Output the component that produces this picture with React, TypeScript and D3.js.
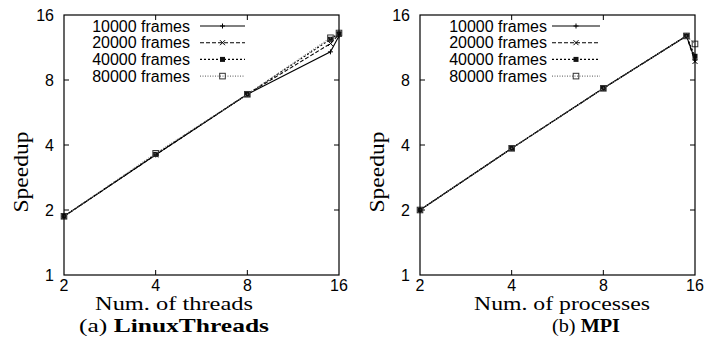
import { useEffect } from 'react';
import * as d3 from 'd3';

// x positions (threads / processes)
const counts = [2, 4, 8, 15, 16];
const seriesNames = ['10000 frames', '20000 frames', '40000 frames', '80000 frames'];

// (a) LinuxThreads speedups
const lt10000 = [1.87, 3.6, 6.87, 10.8, 12.8];
const lt20000 = [1.87, 3.6, 6.87, 11.8, 13.0];
const lt40000 = [1.87, 3.62, 6.87, 12.35, 13.1];
const lt80000 = [1.87, 3.66, 6.87, 12.55, 13.2];

// (b) MPI speedups
const mpi10000 = [2.0, 3.86, 7.32, 12.8, 9.9];
const mpi20000 = [2.0, 3.86, 7.32, 12.8, 9.75];
const mpi40000 = [2.0, 3.86, 7.32, 12.8, 10.3];
const mpi80000 = [2.0, 3.86, 7.32, 12.8, 11.75];

const xTicks = [2, 4, 8, 16];
const yTicks = [1, 2, 4, 8, 16];

const styles = [
  { dash: null, stroke: '#000', marker: 'plus' },
  { dash: '4,2', stroke: '#000', marker: 'cross' },
  { dash: '2,2', stroke: '#000', marker: 'fsquare' },
  { dash: '1,1.5', stroke: '#777', marker: 'osquare' },
];

const SANS = '"Liberation Sans", Arial, sans-serif';
const SERIF = '"Liberation Serif", "Times New Roman", serif';

function Marker({ kind, x, y }: { kind: string; x: number; y: number }) {
  const s = 2.5;
  if (kind === 'plus')
    return <path d={`M${x - s},${y}H${x + s}M${x},${y - s}V${y + s}`} stroke="#000" strokeWidth={1} />;
  if (kind === 'cross')
    return <path d={`M${x - s},${y - s}L${x + s},${y + s}M${x - s},${y + s}L${x + s},${y - s}`} stroke="#000" strokeWidth={1} />;
  if (kind === 'fsquare')
    return <rect x={x - 2.5} y={y - 2.5} width={5} height={5} fill="#111" />;
  return <rect x={x - 2.8} y={y - 2.8} width={5.6} height={5.6} fill="none" stroke="#333" strokeWidth={1} />;
}

function Panel({ x0, x1, series, legendRight, lineX0, lineX1, xTitle, titleW, capLabel, capBold, capW, titleCx, capCx }: any) {
  const top = 15, bottom = 275;
  const x = d3.scaleLog().base(2).domain([2, 16]).range([x0, x1]);
  const y = d3.scaleLog().base(2).domain([1, 16]).range([bottom, top]);
  const line = d3.line<number>().x((_, i) => x(counts[i])).y(d => y(d));
  const tk = 5;
  return (
    <g>
      {/* ticks, mirrored inside */}
      {yTicks.slice(1, -1).map(t => (
        <g key={'y' + t}>
          <line x1={x0} x2={x0 + tk} y1={y(t)} y2={y(t)} stroke="#000" />
          <line x1={x1} x2={x1 - tk} y1={y(t)} y2={y(t)} stroke="#000" />
        </g>
      ))}
      {xTicks.slice(1, -1).map(t => (
        <g key={'x' + t}>
          <line x1={x(t)} x2={x(t)} y1={bottom} y2={bottom - tk} stroke="#000" />
          <line x1={x(t)} x2={x(t)} y1={top} y2={top + tk} stroke="#000" />
        </g>
      ))}
      {yTicks.map(t => (
        <text key={'yl' + t} x={x0 - 10} y={y(t)} dy="0.36em" textAnchor="end" fontFamily={SANS} fontSize={16}>{t}</text>
      ))}
      {xTicks.map(t => (
        <text key={'xl' + t} x={x(t)} y={291} textAnchor="middle" fontFamily={SANS} fontSize={16}>{t}</text>
      ))}
      {/* series */}
      {series.map((vals: number[], si: number) => (
        <g key={si}>
          <path d={line(vals) || ''} fill="none" stroke={styles[si].stroke} strokeWidth={1.1}
            strokeDasharray={styles[si].dash || undefined} />
          {vals.map((v, i) => <Marker key={i} kind={styles[si].marker} x={x(counts[i])} y={y(v)} />)}
        </g>
      ))}
      {/* legend */}
      {seriesNames.map((n, si) => {
        const ly = 26 + si * 16.7;
        return (
          <g key={n}>
            <text x={legendRight} y={ly} dy="0.36em" textAnchor="end" fontFamily={SANS} fontSize={16}>{n}</text>
            <line x1={lineX0} x2={lineX1} y1={ly} y2={ly} stroke={styles[si].stroke} strokeWidth={1.1}
              strokeDasharray={styles[si].dash || undefined} />
            <Marker kind={styles[si].marker} x={(lineX0 + lineX1) / 2} y={ly} />
          </g>
        );
      })}
      <rect x={x0} y={top} width={x1 - x0} height={bottom - top} fill="none" stroke="#000" strokeWidth={1.2} />
      <text transform={`translate(${x0 - 44},172) rotate(-90)`} textAnchor="middle" dy="0.35em"
        fontFamily={SERIF} fontSize={22} textLength={81} lengthAdjust="spacingAndGlyphs">Speedup</text>
      <text x={titleCx} y={310} textAnchor="middle" fontFamily={SERIF} fontSize={18}
        textLength={titleW} lengthAdjust="spacingAndGlyphs">{xTitle}</text>
      <text x={capCx} y={332} textAnchor="middle" fontFamily={SERIF} fontSize={19}
        textLength={capW} lengthAdjust="spacingAndGlyphs">
        {capLabel} <tspan fontWeight="bold">{capBold}</tspan>
      </text>
    </g>
  );
}

export default function App() {
  useEffect(() => { document.body.style.margin = '0'; }, []);
  return (
    <svg width={705} height={347} style={{ display: 'block', background: '#fff' }}>
      <Panel x0={64} x1={339} series={[lt10000, lt20000, lt40000, lt80000]}
        legendRight={190} lineX0={200} lineX1={245}
        xTitle="Num. of threads" titleW={158} capLabel="(a)" capBold="LinuxThreads" capW={190}
        titleCx={174} capCx={174} />
      <Panel x0={420} x1={695} series={[mpi10000, mpi20000, mpi40000, mpi80000]}
        legendRight={547} lineX0={552} lineX1={600}
        xTitle="Num. of processes" titleW={176} capLabel="(b)" capBold="MPI" capW={68}
        titleCx={562} capCx={586} />
    </svg>
  );
}
